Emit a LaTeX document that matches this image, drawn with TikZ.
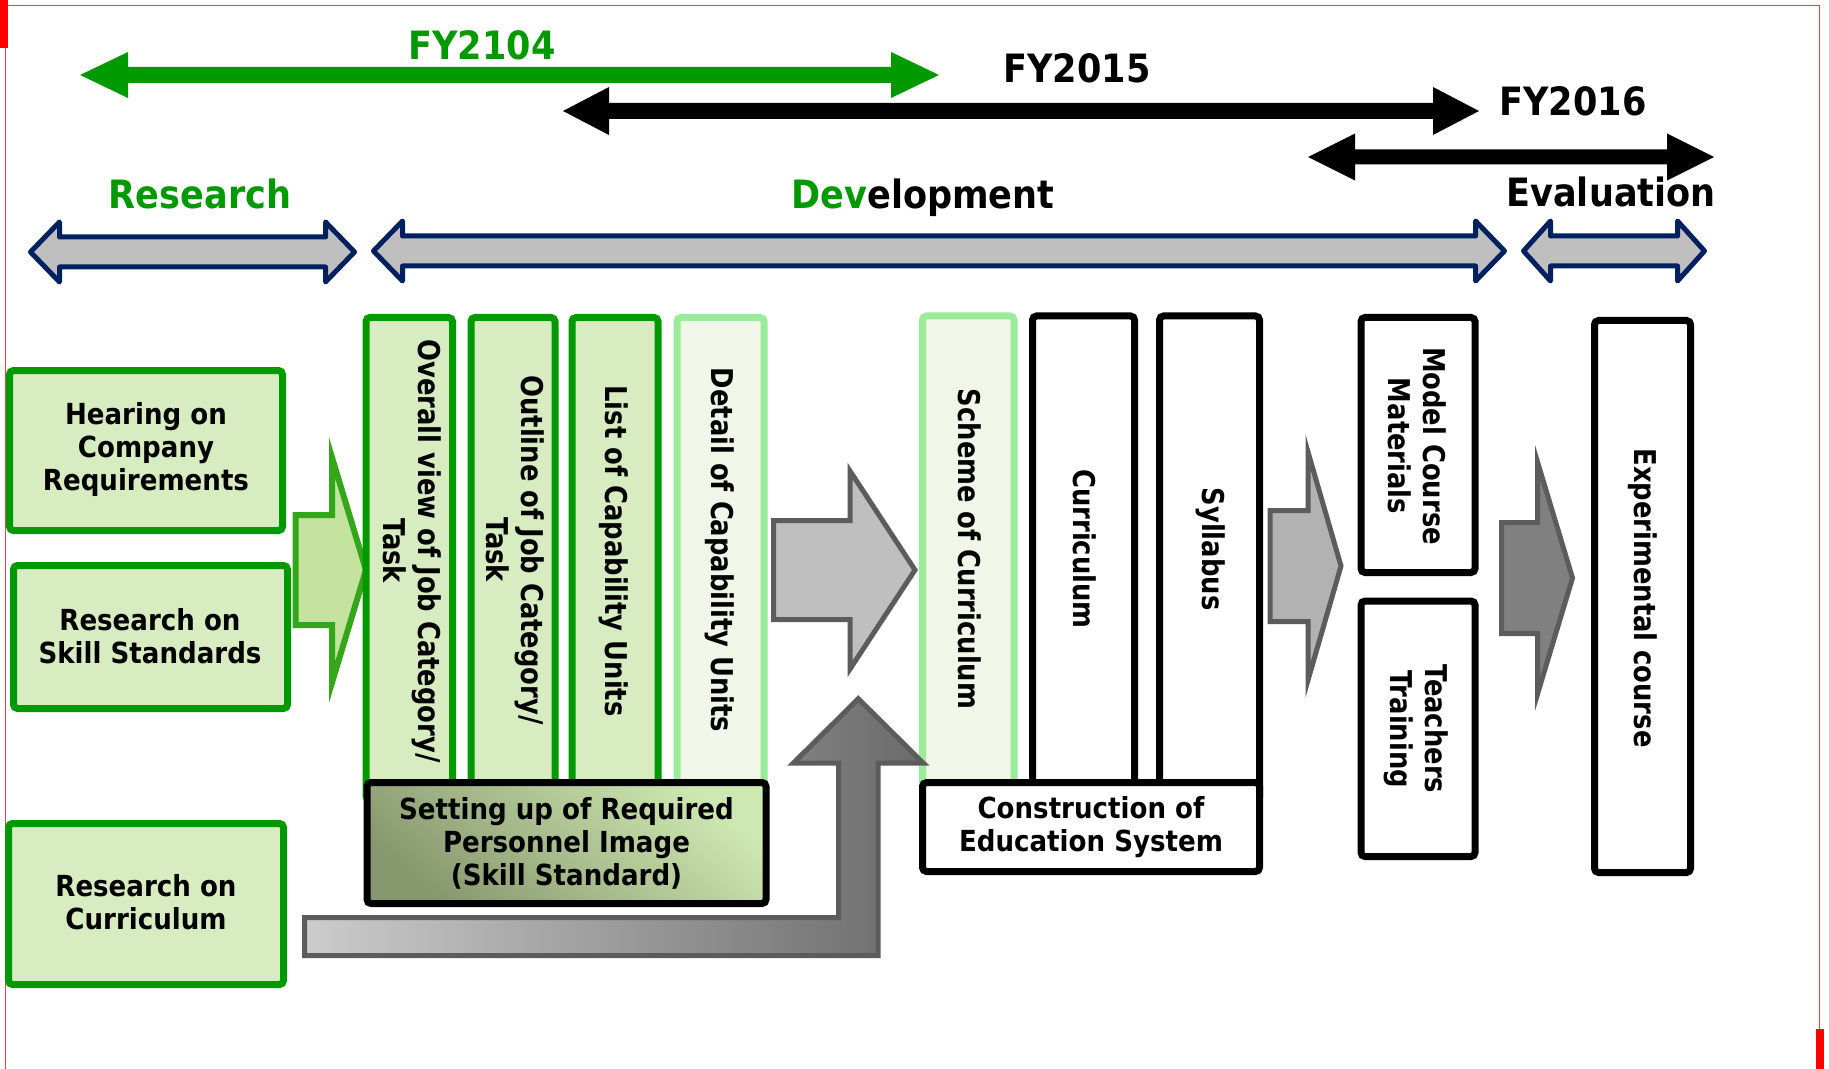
\documentclass[tikz,border=0pt]{standalone}
\usepackage{fontspec}
\setmainfont{DejaVu Sans}
\newfontfamily\hfont{DejaVu Sans}[FakeStretch=0.9]
\newfontfamily\vfont{DejaVu Sans}[FakeStretch=0.86]
\usetikzlibrary{fit}

\definecolor{fgreen}{RGB}{0,153,0}
\definecolor{lgfill}{RGB}{216,236,194}
\definecolor{pgline}{RGB}{153,236,153}
\definecolor{pgfill}{RGB}{240,247,233}
\definecolor{navy}{RGB}{0,32,96}
\definecolor{barfill}{RGB}{191,191,191}
\definecolor{arrline}{RGB}{92,92,92}
\definecolor{garrline}{RGB}{51,166,25}
\definecolor{garrfill}{RGB}{195,227,158}
\definecolor{framered}{RGB}{226,70,70}
\definecolor{setlight}{RGB}{206,232,178}
\definecolor{setdark}{RGB}{136,152,110}

% horizontal double-headed block arrow:
% #1 style, #2 left tip x, #3 right tip x, #4 centre y, #5 head length, #6 head half height, #7 shaft half height
\newcommand\hdarrow[7]{%
  \path[#1] (#2,#4) -- ({#2+#5},{#4-#6}) -- ({#2+#5},{#4-#7}) -- ({#3-#5},{#4-#7})
    -- ({#3-#5},{#4-#6}) -- (#3,#4) -- ({#3-#5},{#4+#6}) -- ({#3-#5},{#4+#7})
    -- ({#2+#5},{#4+#7}) -- ({#2+#5},{#4+#6}) -- cycle;}
% right-pointing block arrow:
% #1 style, #2 shaft left x, #3 head base x, #4 tip x, #5 centre y, #6 shaft half height, #7 head half height
\newcommand\rblock[7]{%
  \path[#1] (#2,{#5-#6}) -- (#3,{#5-#6}) -- (#3,{#5-#7}) -- (#4,#5) -- (#3,{#5+#7})
    -- (#3,{#5+#6}) -- (#2,{#5+#6}) -- cycle;}

\begin{document}
\begin{tikzpicture}[x=0.5pt,y=-0.5pt,
  gbox/.style={draw=fgreen, fill=lgfill, line width=3.5pt, rounded corners=2pt, inner sep=0pt},
  pbox/.style={draw=pgline, fill=pgfill, line width=3.5pt, rounded corners=2pt, inner sep=0pt},
  kbox/.style={draw=black, fill=white, line width=3.5pt, rounded corners=2pt, inner sep=0pt},
  btxt/.style={font=\hfont\bfseries\fontsize{14.5}{16.5}\selectfont, align=center, text=black, inner sep=0pt},
  vtxt/.style={font=\vfont\bfseries\fontsize{15}{17.5}\selectfont, align=center, text=black, rotate=-90, inner sep=0pt},
  ttl/.style={font=\hfont\bfseries\fontsize{19.5}{22}\selectfont, anchor=base, inner sep=0pt},
  phase/.style={draw=navy, fill=barfill, line width=2.5pt, line join=round},
  blockarr/.style={draw=arrline, line width=2.5pt, line join=miter},
]
\useasboundingbox (0,0) rectangle (1829,1069);
\fill[white] (0,0) rectangle (1829,1069);

% page frame marks
\draw[framered, line width=0.75pt] (5.5,1069) -- (5.5,5.5) -- (1819.5,5.5) -- (1819.5,1069);
\fill[red] (0,0) rectangle (8,48);
\fill[red] (1816,1029) rectangle (1824,1069);

% fiscal-year bars
\hdarrow{fill=fgreen}{80}{939}{75}{48}{23}{8}
\hdarrow{fill=black}{563}{1479}{111}{46}{24}{8}
\hdarrow{fill=black}{1308}{1714}{157}{47}{23.5}{7.5}
\node[ttl, text=fgreen] (fy14) at (482,60) {FY2104};
\node[ttl] (fy15) at (1077,83) {FY2015};
\node[ttl] (fy16) at (1573,116) {FY2016};

% phase bars
\hdarrow{phase}{30.5}{354.5}{252}{29}{30}{15}
\hdarrow{phase}{373.5}{1504.5}{251}{29}{30}{15}
\hdarrow{phase}{1523.5}{1704.5}{251}{27}{30}{15}
\node[ttl, text=fgreen] (ph1) at (200,209) {Research};
\node[ttl] (ph2) at (923,209) {{\color{fgreen}Dev}elopment};
\node[ttl] (ph3) at (1611,207) {Evaluation};

% research inputs
\node[gbox, fit={(9.5,370.5)(282.5,530.5)}] (hear) {};
\node[btxt] (hear-t) at (146,449) {Hearing on\\Company\\Requirements};
\node[gbox, fit={(13.5,565.5)(287.5,708.5)}] (skill) {};
\node[btxt] (skill-t) at (150,636) {Research on\\Skill Standards};
\node[gbox, fit={(8.5,823.5)(283.5,984.5)}] (rcur) {};
\node[btxt] (rcur-t) at (146,902) {Research on\\Curriculum};

% green arrow into the skill-standard columns
\rblock{draw=garrline, fill=garrfill, line width=3pt, line join=miter}{295.5}{332}{366}{570}{55}{112.5}

% skill-standard columns
\node[gbox, fit={(366,317.5)(452.5,800)}] (c1) {};
\node[gbox, fit={(471,317.5)(555,800)}] (c2) {};
\node[gbox, fit={(572,317.5)(658,800)}] (c3) {};
\node[pbox, fit={(677,317.5)(764,800)}] (c4) {};
\node[vtxt] (c1-t) at (412,551) {Overall view of Job Category/\\Task};
\node[vtxt] (c2-t) at (515,550) {Outline of Job Category/\\Task};
\node[vtxt] (c3-t) at (614,551) {List of Capability Units};
\node[vtxt] (c4-t) at (720,550) {Detail of Capability Units};

\node[draw=black, line width=3.5pt, rounded corners=2pt, inner sep=0pt,
      top color=setlight, bottom color=setdark, shading angle=-40,
      fit={(367,782.5)(766,903.5)}] (setup) {};
\node[btxt] (setup-t) at (566.5,843) {Setting up of Required\\Personnel Image\\(Skill Standard)};

% education-system columns
\node[pbox, fit={(922.5,316)(1014,800)}] (scheme) {};
\node[kbox, fit={(1032.5,316)(1134.5,800)}] (curcol) {};
\node[kbox, fit={(1159.5,316)(1259.5,800)}] (syl) {};
\node[vtxt] (scheme-t) at (970,549) {Scheme of Curriculum};
\node[vtxt] (curcol-t) at (1085,549) {Curriculum};
\node[vtxt] (syl-t) at (1211,549) {Syllabus};
\node[kbox, fit={(922.5,782.5)(1259.5,871.5)}] (constr) {};
\node[btxt] (constr-t) at (1091,827) {Construction of\\Education System};

% big grey arrow between the groups
\rblock{blockarr, fill=barfill}{773.5}{850}{915}{570}{49.5}{99}

% curriculum research feed (L-shaped arrow)
\shadedraw[draw=arrline, line width=2.5pt, line join=miter, left color=black!20, right color=black!58]
  (304.5,917.5) -- (838.5,917.5) -- (838.5,763) -- (793.4,763) -- (858.3,698.7)
  -- (923.2,763) -- (878,763) -- (878,955.5) -- (304.5,955.5) -- cycle;

% outputs
\rblock{blockarr, fill=black!30}{1270}{1308}{1341}{566}{55.5}{114}
\node[kbox, fit={(1361,317.5)(1475,572.5)}] (model) {};
\node[kbox, fit={(1361,601)(1475,856.5)}] (teach) {};
\node[vtxt] (model-t) at (1417,446) {Model Course\\Materials};
\node[vtxt] (teach-t) at (1416,729) {Teachers\\Training};

\rblock{blockarr, fill=black!50}{1501.5}{1537.5}{1572.5}{578}{55.5}{116}
\node[kbox, fit={(1594.5,320.5)(1690.5,872.5)}] (exper) {};
\node[vtxt] (exper-t) at (1643,598) {Experimental course};
\end{tikzpicture}
\end{document}
